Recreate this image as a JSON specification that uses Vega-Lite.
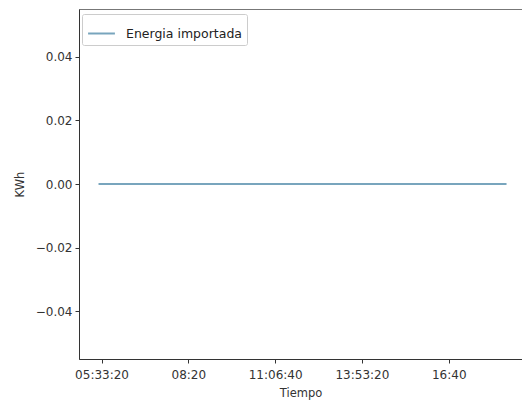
{
  "$schema": "https://vega.github.io/schema/vega-lite/v6.json",
  "autosize": "none",
  "padding": {"left": 79, "top": 9, "right": 0, "bottom": 44},
  "width": 443,
  "height": 350,
  "background": "white",
  "config": {
    "font": "DejaVu Sans",
    "view": {"stroke": "#777", "strokeWidth": 1},
    "axis": {
      "grid": false,
      "domainColor": "#333",
      "tickColor": "#333",
      "tickSize": 4,
      "labelFont": "DejaVu Sans",
      "labelFontSize": 12,
      "labelColor": "#333",
      "titleFont": "DejaVu Sans",
      "titleFontSize": 11.5,
      "titleFontWeight": "normal",
      "titleColor": "#333"
    }
  },
  "data": {
    "values": [
      {"t": "1970-01-01T05:27:30Z", "kwh": 0, "serie": "Energia importada"},
      {"t": "1970-01-01T06:00:00Z", "kwh": 0, "serie": "Energia importada"},
      {"t": "1970-01-01T07:00:00Z", "kwh": 0, "serie": "Energia importada"},
      {"t": "1970-01-01T08:00:00Z", "kwh": 0, "serie": "Energia importada"},
      {"t": "1970-01-01T09:00:00Z", "kwh": 0, "serie": "Energia importada"},
      {"t": "1970-01-01T10:00:00Z", "kwh": 0, "serie": "Energia importada"},
      {"t": "1970-01-01T11:00:00Z", "kwh": 0, "serie": "Energia importada"},
      {"t": "1970-01-01T12:00:00Z", "kwh": 0, "serie": "Energia importada"},
      {"t": "1970-01-01T13:00:00Z", "kwh": 0, "serie": "Energia importada"},
      {"t": "1970-01-01T14:00:00Z", "kwh": 0, "serie": "Energia importada"},
      {"t": "1970-01-01T15:00:00Z", "kwh": 0, "serie": "Energia importada"},
      {"t": "1970-01-01T16:00:00Z", "kwh": 0, "serie": "Energia importada"},
      {"t": "1970-01-01T17:00:00Z", "kwh": 0, "serie": "Energia importada"},
      {"t": "1970-01-01T18:00:00Z", "kwh": 0, "serie": "Energia importada"},
      {"t": "1970-01-01T18:31:00Z", "kwh": 0, "serie": "Energia importada"}
    ]
  },
  "mark": {"type": "line", "strokeWidth": 2, "clip": true},
  "encoding": {
    "x": {
      "field": "t",
      "type": "temporal",
      "title": "Tiempo",
      "scale": {
        "type": "utc",
        "domain": [
          {"year": 1970, "month": 1, "date": 1, "hours": 4, "minutes": 50, "seconds": 0, "utc": true},
          {"year": 1970, "month": 1, "date": 1, "hours": 19, "minutes": 0, "seconds": 42, "utc": true}
        ]
      },
      "axis": {
        "values": [
          {"year": 1970, "month": 1, "date": 1, "hours": 5, "minutes": 33, "seconds": 20, "utc": true},
          {"year": 1970, "month": 1, "date": 1, "hours": 8, "minutes": 20, "seconds": 0, "utc": true},
          {"year": 1970, "month": 1, "date": 1, "hours": 11, "minutes": 6, "seconds": 40, "utc": true},
          {"year": 1970, "month": 1, "date": 1, "hours": 13, "minutes": 53, "seconds": 20, "utc": true},
          {"year": 1970, "month": 1, "date": 1, "hours": 16, "minutes": 40, "seconds": 0, "utc": true}
        ],
        "labelExpr": "utcseconds(datum.value) == 0 ? utcFormat(datum.value, '%H:%M') : utcFormat(datum.value, '%H:%M:%S')",
        "labelPadding": 6,
        "titlePadding": 7
      }
    },
    "y": {
      "field": "kwh",
      "type": "quantitative",
      "title": "KWh",
      "scale": {"domain": [-0.055, 0.055], "nice": false, "zero": false},
      "axis": {
        "values": [-0.04, -0.02, 0, 0.02, 0.04],
        "labelExpr": "replace(format(datum.value, '.2f'), '-', '\u2212')",
        "labelPadding": 3,
        "titlePadding": 10
      }
    },
    "color": {
      "field": "serie",
      "type": "nominal",
      "scale": {"range": ["#78a5bd"]},
      "legend": {
        "title": null,
        "orient": "none",
        "legendX": 3,
        "legendY": 5,
        "symbolType": "stroke",
        "symbolSize": 720,
        "symbolStrokeWidth": 2,
        "labelOffset": 10,
        "labelFont": "DejaVu Sans",
        "labelFontSize": 12.5,
        "labelColor": "#222",
        "strokeColor": "#ccc",
        "fillColor": "white",
        "cornerRadius": 2,
        "padding": 5
      }
    }
  }
}
